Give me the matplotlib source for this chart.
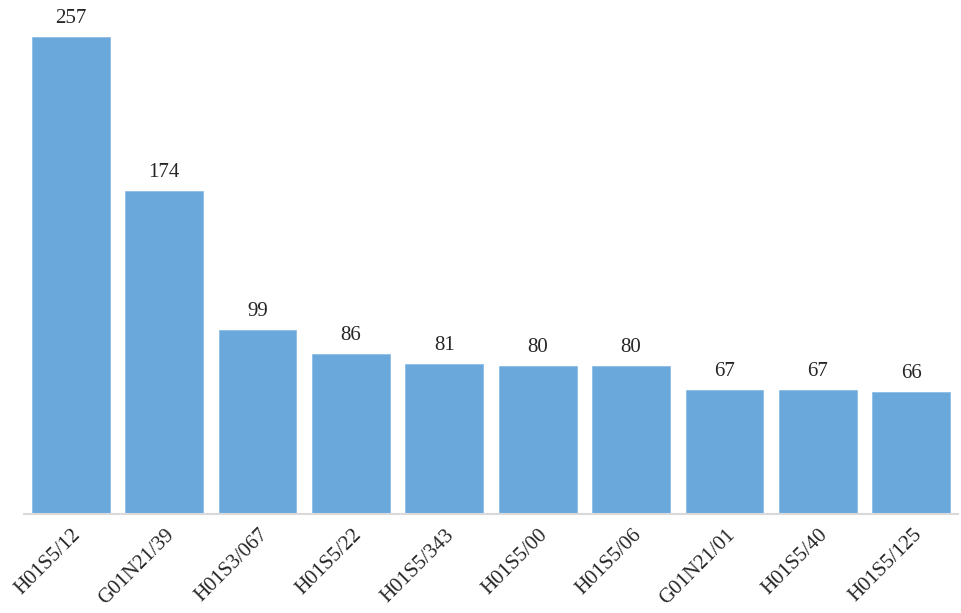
import matplotlib.pyplot as plt
from matplotlib.transforms import ScaledTranslation

plt.rcParams['font.family'] = ['Liberation Serif', 'DejaVu Serif']

# 数据
codes = ['H01S5/12', 'G01N21/39', 'H01S3/067', 'H01S5/22', 'H01S5/343',
         'H01S5/00', 'H01S5/06', 'G01N21/01', 'H01S5/40', 'H01S5/125']
counts = [257, 174, 99, 86, 81, 80, 80, 67, 67, 66]

fig = plt.figure(figsize=(9.62, 6.13), dpi=100)
# 按像素位置放坐标轴：左24 右958，底边514
ax = fig.add_axes([24 / 962, 1 - 514 / 613, 934 / 962, 514 / 613])

x = range(len(codes))
bars = ax.bar(x, counts, width=0.835, color='#6AA8DC', edgecolor='#8DBDE6', linewidth=0.6)

for rect, v in zip(bars, counts):
    ax.annotate(str(v), (rect.get_x() + rect.get_width() / 2, v),
                xytext=(0, 10), textcoords='offset points',
                ha='center', va='baseline', fontsize=15, color='#262626')

ax.set_xlim(-0.5, len(codes) - 0.5)
ax.set_ylim(0, 514 / 1.856)

ax.set_xticks(list(x))
ax.set_xticklabels(codes, rotation=45, ha='right', va='center', rotation_mode='anchor',
                   fontsize=15, color='#262626')
ax.tick_params(axis='x', length=0, pad=13)
shift = ScaledTranslation(7.5 / 100, 0, fig.dpi_scale_trans)
for lab in ax.get_xticklabels():
    lab.set_transform(lab.get_transform() + shift)
ax.set_yticks([])

for s in ['top', 'right', 'left']:
    ax.spines[s].set_visible(False)
ax.spines['bottom'].set_color('#D9D9D9')
ax.spines['bottom'].set_linewidth(1.5)

plt.savefig('out.png', dpi=100)
